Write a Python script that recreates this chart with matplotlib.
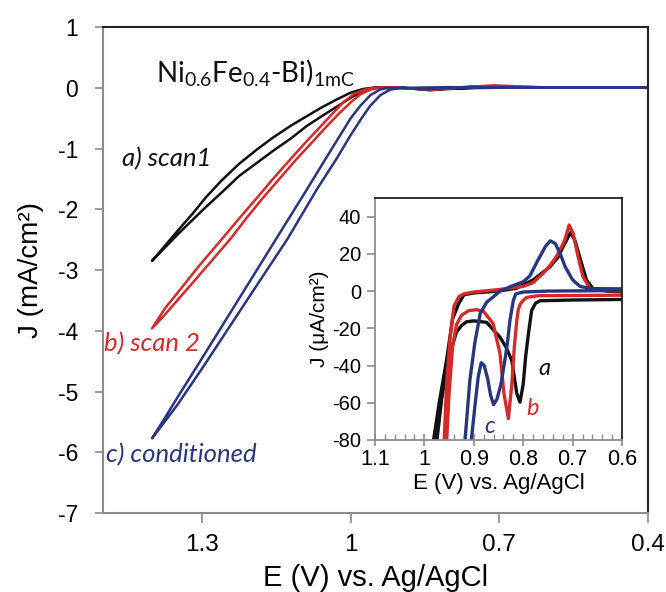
#!/usr/bin/env python3
# Ni0.6Fe0.4-Bi LSV scans with CV inset

import matplotlib
matplotlib.use('Agg')
import matplotlib.pyplot as plt
from matplotlib.ticker import MultipleLocator, FuncFormatter

plt.rcParams['font.family'] = ['Liberation Sans', 'DejaVu Sans']
plt.rcParams['axes.unicode_minus'] = False
plt.rcParams['mathtext.fontset'] = 'custom'
plt.rcParams['mathtext.rm'] = 'Lato'
plt.rcParams['mathtext.it'] = 'Lato:italic'

# Colors for the three scans
BLACK = '#111111'
RED = '#d42a2a'
BLUE = '#28357f'
GRAY = '#8c8c8c'

# ---- main plot data: E (V), J (mA/cm2) ----
# a) scan1
scan1_up_E = [0.40, 0.55, 0.70, 0.80, 0.84, 0.88, 0.93, 0.955, 0.975, 1.0, 1.03, 1.06, 1.089, 1.12, 1.157,
              1.19, 1.225, 1.26, 1.292, 1.32, 1.35, 1.375, 1.401]
scan1_up_J = [0.0, 0.0, 0.02, -0.02, -0.04, -0.01, 0.0, 0.0, -0.02, -0.08, -0.2, -0.33, -0.47, -0.62, -0.82,
              -1.02, -1.25, -1.52, -1.8, -2.08, -2.36, -2.6, -2.85]
scan1_dn_E = [1.401, 1.375, 1.35, 1.32, 1.292, 1.26, 1.225, 1.19, 1.157, 1.12, 1.089, 1.055, 1.022, 0.995,
              0.968, 0.95, 0.90, 0.84, 0.80, 0.70, 0.55, 0.40]
scan1_dn_J = [-2.85, -2.63, -2.42, -2.18, -1.96, -1.72, -1.45, -1.24, -1.04, -0.83, -0.63, -0.45, -0.28, -0.14,
              -0.03, 0.0, 0.0, -0.03, -0.01, 0.0, 0.0, 0.0]

# b) scan 2
scan2_up_E = [0.40, 0.60, 0.71, 0.80, 0.88, 0.955, 0.975, 0.995, 1.015, 1.035, 1.06, 1.089, 1.12, 1.157,
              1.19, 1.225, 1.259, 1.306, 1.35, 1.374, 1.401]
scan2_up_J = [0.0, 0.0, 0.04, 0.0, -0.01, 0.0, -0.04, -0.11, -0.24, -0.41, -0.63, -0.88, -1.16, -1.50,
              -1.82, -2.15, -2.48, -2.93, -3.38, -3.62, -3.96]
scan2_dn_E = [1.401, 1.38, 1.35, 1.30, 1.242, 1.211, 1.178, 1.144, 1.11, 1.076, 1.048, 1.022, 1.0, 0.981,
              0.96, 0.941, 0.90, 0.84, 0.75, 0.60, 0.40]
scan2_dn_J = [-3.96, -3.78, -3.50, -3.03, -2.48, -2.15, -1.82, -1.50, -1.18, -0.88, -0.63, -0.41, -0.24, -0.11,
              -0.03, 0.0, 0.0, -0.04, 0.02, 0.0, 0.0]

# c) conditioned
cond_up_E = [0.40, 0.55, 0.70, 0.80, 0.88, 0.914, 0.93, 0.941, 0.96, 0.981, 1.0, 1.022, 1.05, 1.089, 1.150,
             1.22, 1.30, 1.35, 1.374, 1.401]
cond_up_J = [0.0, 0.0, 0.0, 0.01, 0.0, 0.0, -0.01, -0.03, -0.12, -0.30, -0.5, -0.79, -1.16, -1.68, -2.48,
             -3.40, -4.45, -5.10, -5.42, -5.77]
cond_dn_E = [1.401, 1.385, 1.35, 1.30, 1.25, 1.20, 1.127, 1.069, 1.028, 1.001, 0.978, 0.961, 0.94, 0.920,
             0.905, 0.894, 0.85, 0.80, 0.70, 0.55, 0.40]
cond_dn_J = [-5.77, -5.60, -5.22, -4.62, -4.00, -3.38, -2.48, -1.68, -1.16, -0.79, -0.5, -0.30, -0.12, -0.03,
             -0.01, 0.0, -0.03, 0.0, 0.0, 0.0, 0.0]

main_xticks = [1.3, 1.0, 0.7, 0.4]
main_yticks = [1, 0, -1, -2, -3, -4, -5, -6, -7]

# ---- inset data: E (V), J (uA/cm2) ----
ins_a_E = [0.60, 0.70, 0.766, 0.775, 0.783, 0.789, 0.795, 0.80, 0.8065, 0.813, 0.823, 0.835, 0.847, 0.874, 0.90,
           0.915, 0.925, 0.935, 0.95, 0.965, 0.975, 0.982,
           0.990, 0.982, 0.97, 0.955, 0.943, 0.931, 0.92, 0.90, 0.85, 0.814, 0.78, 0.746, 0.730, 0.719, 0.704,
           0.695, 0.686, 0.672, 0.659, 0.63, 0.60]
ins_a_J = [-4.5, -4.8, -5.2, -6.5, -10.5, -22, -35, -50, -59.7, -55, -37.4, -30, -24.8, -16.8, -16,
           -16.5, -18.6, -22, -35, -58, -81, -95,
           -95, -81, -60, -37, -15, -7, -2, -1, 0, 1.5, 6, 13, 18, 24, 31.5,
           27, 18.5, 6, 1.4, 0, -0.5]

ins_b_E = [0.60, 0.77, 0.793, 0.80, 0.806, 0.810, 0.813, 0.818, 0.823, 0.830, 0.839, 0.847, 0.861, 0.88, 0.894,
           0.91, 0.925, 0.935, 0.943, 0.950, 0.955, 0.958,
           0.965, 0.960, 0.955, 0.948, 0.94, 0.93, 0.92, 0.90, 0.85, 0.80, 0.78, 0.76, 0.745, 0.733, 0.722,
           0.716, 0.707, 0.699, 0.689, 0.679, 0.665, 0.64, 0.60]
ins_b_J = [-2.2, -2.5, -3.4, -5, -7, -10, -16, -30, -50, -68.5, -55, -33.5, -17.4, -11, -10,
           -10.5, -13, -18, -30, -55, -81, -95,
           -95, -81, -50, -25, -8, -3, -1.5, -0.5, 0.8, 2.5, 4.5, 9.5, 14, 18.5, 24,
           27.4, 35.5, 31, 18.5, 7.7, 1.4, 0.3, 0.0]

ins_c_E = [0.60, 0.75, 0.80, 0.815, 0.820, 0.827, 0.832, 0.837, 0.845, 0.853, 0.860, 0.866, 0.872, 0.879, 0.885,
           0.891, 0.897, 0.903, 0.909, 0.913,
           0.924, 0.918, 0.908, 0.898, 0.887, 0.874, 0.86, 0.847, 0.82, 0.80, 0.787, 0.77, 0.755, 0.745, 0.735,
           0.725, 0.715, 0.70, 0.685, 0.66, 0.60]
ins_c_J = [0.3, 0.0, -0.5, -1.5, -5, -16, -28, -37, -50, -58, -61, -56, -47, -40, -38.5,
           -46, -60, -75, -90, -100,
           -100, -81, -48, -28, -12, -6, -3, 0, 3, 5, 8, 16.7, 24, 27, 25.5,
           20, 13, 6, 2.5, 1.3, 1.2]

ins_xticks = [1.1, 1.0, 0.9, 0.8, 0.7, 0.6]
ins_yticks = [40, 20, 0, -20, -40, -60, -80]


def style_spines(ax, lw):
    for side in ['left', 'bottom']:
        ax.spines[side].set_color(GRAY)
        ax.spines[side].set_linewidth(lw)
    for side in ['top', 'right']:
        ax.spines[side].set_color('#222222')
        ax.spines[side].set_linewidth(lw)


fmt = FuncFormatter(lambda v, p: '%g' % round(v, 2))

fig = plt.figure(figsize=(6.66, 5.92), dpi=100)

# main axes
ax = fig.add_axes([0.1547, 0.1334, 0.8183, 0.821])
ax.plot(scan1_up_E + scan1_dn_E, scan1_up_J + scan1_dn_J, color=BLACK, lw=1.8)
ax.plot(scan2_up_E + scan2_dn_E, scan2_up_J + scan2_dn_J, color=RED, lw=1.8)
ax.plot(cond_up_E + cond_dn_E, cond_up_J + cond_dn_J, color=BLUE, lw=1.8)

ax.set_xlim(1.5, 0.4)
ax.set_ylim(-7, 1)
ax.set_xticks(main_xticks)
ax.set_yticks(main_yticks)
ax.xaxis.set_major_formatter(fmt)
ax.tick_params(axis='x', direction='out', length=7, width=1.2, color=GRAY, labelsize=17.5, pad=8)
ax.tick_params(axis='y', direction='out', length=6, width=1.2, color=GRAY, labelsize=16.5, pad=12)
style_spines(ax, 1.5)
ax.set_xlabel('E (V) vs. Ag/AgCl', fontsize=21, labelpad=6)
ax.set_ylabel('J (mA/cm²)', fontsize=20, labelpad=10)

ax.text(1.393, 0.25, 'Ni$_{\\mathrm{0.6}}$Fe$_{\\mathrm{0.4}}$-Bi)$_{\\mathrm{1mC}}$',
        fontsize=20, family='Lato', va='center', ha='left', color=BLACK)
ax.text(1.462, -1.17, 'a) scan1', fontsize=18.5, family='Lato', style='italic',
        va='center', ha='left', color=BLACK)
ax.text(1.499, -4.22, 'b) scan 2', fontsize=18.5, family='Lato', style='italic',
        va='center', ha='left', color=RED)
ax.text(1.495, -6.04, 'c) conditioned', fontsize=18.5, family='Lato', style='italic',
        va='center', ha='left', color=BLUE)

# inset axes
ins = fig.add_axes([0.563, 0.2568, 0.371, 0.4087])
ins.plot(ins_a_E, ins_a_J, color=BLACK, lw=2.4)
ins.plot(ins_b_E, ins_b_J, color=RED, lw=2.4)
ins.plot(ins_c_E, ins_c_J, color=BLUE, lw=2.4)
ins.set_xlim(1.1, 0.6)
ins.set_ylim(-80, 50)
ins.set_xticks(ins_xticks)
ins.set_yticks(ins_yticks)
ins.xaxis.set_minor_locator(MultipleLocator(0.02))
ins.xaxis.set_major_formatter(fmt)
ins.tick_params(axis='x', which='major', direction='inout', length=9, width=1.2, color=GRAY,
                labelsize=15.5, pad=2)
ins.tick_params(axis='x', which='minor', direction='in', length=4, width=1.0, color=GRAY)
ins.tick_params(axis='y', direction='out', length=6, width=1.2, color=GRAY, labelsize=14.5, pad=4)
style_spines(ins, 1.3)
ins.set_xlabel('E (V) vs. Ag/AgCl', fontsize=16, labelpad=2)
ins.set_ylabel('J (μA/cm²)', fontsize=15, labelpad=2)

ins.text(0.756, -41.8, 'a', fontsize=17, family='Lato', style='italic', va='center', ha='center', color=BLACK)
ins.text(0.782, -63, 'b', fontsize=17, family='Lato', style='italic', va='center', ha='center', color=RED)
ins.text(0.867, -73, 'c', fontsize=17, family='Lato', style='italic', va='center', ha='center', color=BLUE)

fig.savefig('out.png', dpi=100)
